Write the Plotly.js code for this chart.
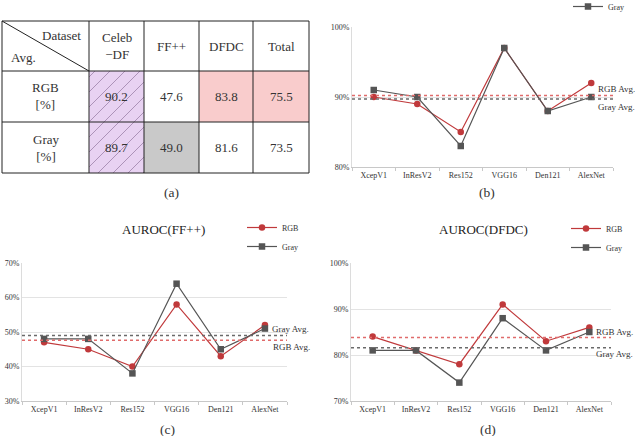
<!DOCTYPE html>
<html>
<head>
<meta charset="utf-8">
<script src="https://cdn.plot.ly/plotly-3.0.1.min.js"></script>
<style>
  html, body { margin: 0; padding: 0; background: #fff; }
  #fig { width: 635px; height: 436px; }
</style>
</head>
<body>
<div id="fig"></div>
<script>
// ---- data ----
const models = ['XcepV1', 'InResV2', 'Res152', 'VGG16', 'Den121', 'AlexNet'];

// AUROC (%) per model, Celeb-DF
const celebRGB  = [90, 89, 85, 97, 88, 92];
const celebGray = [91, 90, 83, 97, 88, 90];
// AUROC (%) per model, FF++
const ffRGB  = [47, 45, 40, 58, 43, 52];
const ffGray = [48, 48, 38, 64, 45, 51];
// AUROC (%) per model, DFDC
const dfdcRGB  = [84, 81, 78, 91, 83, 86];
const dfdcGray = [81, 81, 74, 88, 81, 85];

// summary table
const tableCols  = ['Celeb<br>\u2212DF', 'FF++', 'DFDC', 'Total'];
const tableRows  = ['RGB<br>[%]', 'Gray<br>[%]'];
const avgRGB  = [90.2, 47.6, 83.8, 75.5];
const avgGray = [89.7, 49.0, 81.6, 73.5];

// ---- helpers ----
const W = 635, H = 436;
const px = x => x / W;
const py = y => 1 - y / H;

const SERIF = '"Liberation Serif", "DejaVu Serif", serif';
const RED = '#c0393b';
const GRAY = '#555555';

const shapes = [];
const annotations = [];

// ---- table (a) ----
const colX = [2, 89, 144, 199, 253, 309];
const rowY = [21, 71, 122, 173];

function rect(x0, y0, x1, y1, fill) {
  shapes.push({type: 'rect', xref: 'paper', yref: 'paper',
    x0: px(x0), x1: px(x1), y0: py(y1), y1: py(y0),
    fillcolor: fill, line: {width: 0}, layer: 'below'});
}
function seg(x0, y0, x1, y1, color, width, dash) {
  shapes.push({type: 'line', xref: 'paper', yref: 'paper',
    x0: px(x0), y0: py(y0), x1: px(x1), y1: py(y1),
    line: {color: color, width: width, dash: dash || 'solid'}});
}
function txt(x, y, text, size, opts) {
  annotations.push(Object.assign({xref: 'paper', yref: 'paper', x: px(x), y: py(y),
    text: text, showarrow: false, xanchor: 'center', yanchor: 'middle',
    font: {family: SERIF, size: size, color: '#333'}}, opts || {}));
}

// cell fills
rect(colX[1], rowY[1], colX[2], rowY[3], '#e8d2f2');      // Celeb-DF column
rect(colX[2], rowY[2], colX[3], rowY[3], '#c9c9c9');      // FF++ gray
rect(colX[3], rowY[1], colX[4], rowY[2], '#f9cccc');      // DFDC rgb
rect(colX[4], rowY[1], colX[5], rowY[2], '#f9cccc');      // Total rgb

// hatching over the Celeb-DF column
(function () {
  const x0 = colX[1], x1 = colX[2], yt = rowY[1], yb = rowY[3];
  const h = yb - yt, step = 15;
  for (let c = x0 - h + 6; c < x1; c += step) {
    const t0 = Math.max(0, x0 - c), t1 = Math.min(h, x1 - c);
    if (t1 <= t0) continue;
    seg(c + t0, yb - t0, c + t1, yb - t1, '#9c82a8', 0.8);
  }
})();

// grid lines
for (const y of rowY) seg(colX[0], y, colX[5], y, '#222', 1);
for (const x of colX) seg(x, rowY[0], x, rowY[3], '#222', 1);
seg(colX[0], rowY[0], colX[1], rowY[1], '#222', 1);

// header
txt(61, 36, 'Dataset', 13);
txt(23, 57, 'Avg.', 13);
tableCols.forEach((c, i) => txt((colX[i + 1] + colX[i + 2]) / 2, 46, c, 13));
tableRows.forEach((r, j) => txt((colX[0] + colX[1]) / 2, (rowY[j + 1] + rowY[j + 2]) / 2, r, 13));
avgRGB.forEach((v, i) => txt((colX[i + 1] + colX[i + 2]) / 2, 97, v.toFixed(1), 13));
avgGray.forEach((v, i) => txt((colX[i + 1] + colX[i + 2]) / 2, 148, v.toFixed(1), 13));

// captions
txt(171, 193, '(a)', 13.5);
txt(487, 193, '(b)', 13.5);
txt(167, 429, '(c)', 13.5);
txt(488, 429, '(d)', 13.5);

// subplot titles
txt(163, 229, 'AUROC(FF++)', 13, {font: {family: SERIF, size: 13, color: '#222'}});
txt(483, 229, 'AUROC(DFDC)', 13, {font: {family: SERIF, size: 13, color: '#222'}});

// ---- line charts ----
function avgLine(ax, value, color) {
  shapes.push({type: 'line', xref: 'x' + ax + ' domain', yref: 'y' + ax,
    x0: 0, x1: 1, y0: value, y1: value,
    line: {color: color, width: 1.5, dash: 'dot'}});
}
function avgLabel(x, y, text) {
  txt(x, y, text, 9, {xanchor: 'left', font: {family: SERIF, size: 9, color: '#333'}});
}

const traces = [];
function series(ax, y, name, color, symbol, legend, show) {
  traces.push({
    type: 'scatter', mode: 'lines+markers', x: models, y: y, name: name,
    xaxis: 'x' + ax, yaxis: 'y' + ax,
    line: {color: color, width: 1.2},
    marker: {color: color, symbol: symbol, size: 6.5},
    legend: legend, showlegend: show, hoverinfo: 'skip'
  });
}

// (b) Celeb-DF
series('', celebRGB, 'RGB', RED, 'circle', 'legend', false);
series('', celebGray, 'Gray', GRAY, 'square', 'legend', true);
avgLine('', avgRGB[0], '#e06b6b');
avgLine('', avgGray[0], '#6a6a6a');
avgLabel(596, 89, 'RGB Avg.');
avgLabel(596, 107, 'Gray Avg.');

// (c) FF++
series('2', ffRGB, 'RGB', RED, 'circle', 'legend2', true);
series('2', ffGray, 'Gray', GRAY, 'square', 'legend2', true);
avgLine('2', avgGray[1], '#6a6a6a');
avgLine('2', avgRGB[1], '#e06b6b');
avgLabel(270, 329, 'Gray Avg.');
avgLabel(271, 347, 'RGB Avg.');

// (d) DFDC
series('3', dfdcRGB, 'RGB', RED, 'circle', 'legend3', true);
series('3', dfdcGray, 'Gray', GRAY, 'square', 'legend3', true);
avgLine('3', avgRGB[2], '#e06b6b');
avgLine('3', avgGray[2], '#6a6a6a');
avgLabel(594, 332, 'RGB Avg.');
avgLabel(594, 354, 'Gray Avg.');

const tickFont = {family: SERIF, size: 8, color: '#333'};
function xAxis(domain, anchor) {
  return {domain: domain, anchor: anchor, type: 'category', range: [-0.5, 5.5],
    showgrid: false, showline: true, linecolor: '#c8c8c8', linewidth: 1,
    ticks: 'outside', tickson: 'boundaries', ticklen: 3, tickcolor: '#c8c8c8',
    tickfont: tickFont, automargin: false, fixedrange: true};
}
function yAxis(domain, anchor, range) {
  return {domain: domain, anchor: anchor, range: range, dtick: 10, ticksuffix: '%',
    showgrid: true, gridcolor: '#e3e3e3', gridwidth: 1, zeroline: false,
    showline: true, linecolor: '#dcdcdc', linewidth: 1, ticks: '',
    tickfont: tickFont, automargin: false, fixedrange: true};
}
const legendFont = {family: SERIF, size: 8, color: '#333'};

const layout = {
  width: W, height: H,
  margin: {l: 0, r: 0, t: 0, b: 0, autoexpand: false},
  paper_bgcolor: '#fff', plot_bgcolor: '#fff',
  xaxis:  xAxis([px(352), px(613)], 'y'),
  yaxis:  yAxis([py(167), py(27)], 'x', [80, 100]),
  xaxis2: xAxis([px(22), px(287)], 'y2'),
  yaxis2: yAxis([py(401), py(263)], 'x2', [30, 70]),
  xaxis3: xAxis([px(351), px(611)], 'y3'),
  yaxis3: yAxis([py(401), py(263)], 'x3', [70, 100]),
  legend:  {x: px(568), y: py(-8), xanchor: 'left', yanchor: 'top', font: legendFont,
            bgcolor: 'rgba(0,0,0,0)', itemwidth: 30},
  legend2: {x: px(242), y: py(213), xanchor: 'left', yanchor: 'top', font: legendFont,
            bgcolor: 'rgba(0,0,0,0)', itemwidth: 30},
  legend3: {x: px(566), y: py(214), xanchor: 'left', yanchor: 'top', font: legendFont,
            bgcolor: 'rgba(0,0,0,0)', itemwidth: 30},
  shapes: shapes,
  annotations: annotations,
  showlegend: true
};

Plotly.newPlot('fig', traces, layout, {staticPlot: true, displayModeBar: false});
</script>
</body>
</html>
